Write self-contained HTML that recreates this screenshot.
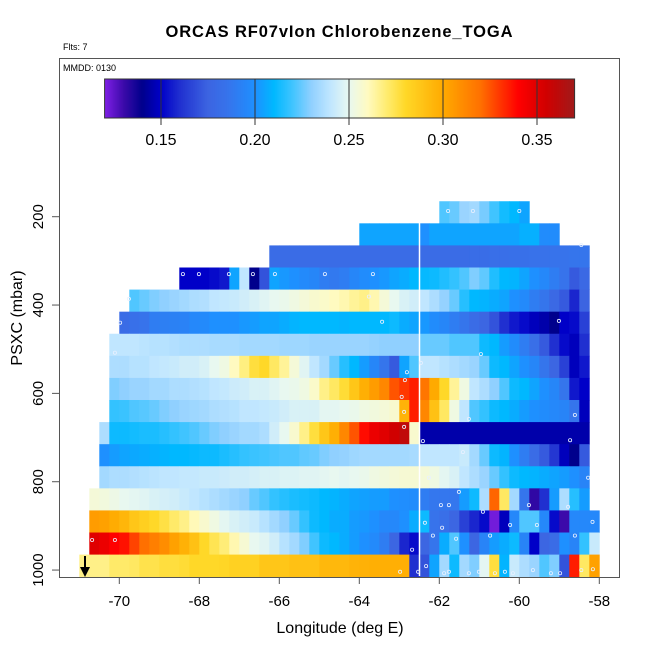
<!DOCTYPE html>
<html><head><meta charset="utf-8"><style>
html,body{margin:0;padding:0;background:#fff;}
svg{display:block;font-family:"Liberation Sans",Arial,sans-serif;}
</style></head><body>
<svg id="chart" width="650" height="650" viewBox="0 0 650 650" xmlns="http://www.w3.org/2000/svg">
<rect x="0" y="0" width="650" height="650" fill="#fff"/>
<text x="339" y="37" text-anchor="middle" font-size="16.5" font-weight="bold" textLength="347">ORCAS RF07vIon Chlorobenzene_TOGA</text>
<text x="63" y="50" font-size="9">Flts: 7</text>
<text x="63" y="71" font-size="9">MMDD: 0130</text>
<g id="cells"></g>
<line x1="419.5" y1="223" x2="419.5" y2="576" stroke="#fff" stroke-width="1.5"/>
<g id="points"></g>
<g id="cbar"></g>
<g id="axes"></g>
<line x1="85" y1="556" x2="85" y2="572" stroke="#000" stroke-width="2"/>
<polygon points="80,567 90,567 85,577" fill="#000"/>
<rect x="59.5" y="58.5" width="560" height="519" fill="none" stroke="#555" stroke-width="1"/>
<text x="340" y="633" text-anchor="middle" font-size="16">Longitude (deg E)</text>
<text transform="translate(22,318) rotate(-90)" text-anchor="middle" font-size="16">PSXC (mbar)</text>
</svg>
<script>
const rowPressure = [190,240,290,340,390,440,490,540,590,640,690,740,790,840,890,940,990];
const rowStartLon = [-62.0,-64.0,-66.25,-68.5,-69.75,-70.0,-70.25,-70.25,-70.25,-70.25,-70.5,-70.5,-70.5,-70.75,-70.75,-70.75,-71.0];
const cellWidthLon = 0.25;
const bandHeightP = 50;
const row0 = [0.222,0.225,0.232,0.234,0.227,0.22,0.213,0.21,0.205];
const row1 = [0.205,0.205,0.205,0.205,0.205,0.205,0.2,0.205,0.205,0.205,0.205,0.205,0.205,0.205,0.205,0.205,0.208,0.208,0.198,0.198];
const row2 = [0.18,0.18,0.18,0.18,0.18,0.18,0.18,0.18,0.18,0.18,0.18,0.18,0.18,0.18,0.18,0.18,0.18,0.18,0.18,0.18,0.181,0.181,0.182,0.182,0.183,0.183,0.184,0.184,0.185,0.185,0.186,0.186];
const row3 = [0.15,0.15,0.15,0.152,0.155,0.205,0.24,0.14,0.17,0.205,0.202,0.2,0.197,0.195,0.19,0.188,0.19,0.195,0.198,0.2,0.202,0.205,0.207,0.21,0.211,0.212,0.215,0.218,0.222,0.228,0.224,0.215,0.21,0.209,0.205,0.2,0.196,0.19,0.185,0.172,0.178];
const row4 = [0.222,0.225,0.228,0.23,0.232,0.234,0.236,0.237,0.24,0.241,0.242,0.244,0.246,0.248,0.25,0.251,0.253,0.255,0.257,0.258,0.26,0.262,0.265,0.267,0.262,0.255,0.25,0.246,0.244,0.24,0.236,0.231,0.225,0.216,0.21,0.209,0.207,0.205,0.2,0.197,0.19,0.186,0.178,0.172,0.158,0.175];
const row5 = [0.18,0.183,0.185,0.19,0.191,0.192,0.193,0.196,0.197,0.2,0.2,0.2,0.202,0.203,0.205,0.205,0.207,0.209,0.21,0.21,0.21,0.21,0.209,0.21,0.21,0.21,0.21,0.212,0.207,0.205,0.202,0.198,0.195,0.19,0.186,0.18,0.176,0.17,0.16,0.155,0.152,0.148,0.145,0.14,0.15,0.152,0.165];
const row6 = [0.24,0.24,0.24,0.239,0.238,0.238,0.237,0.236,0.236,0.236,0.235,0.235,0.235,0.234,0.234,0.234,0.234,0.233,0.233,0.233,0.232,0.232,0.232,0.232,0.232,0.232,0.231,0.23,0.23,0.23,0.23,0.225,0.225,0.225,0.222,0.222,0.222,0.212,0.21,0.203,0.198,0.19,0.182,0.172,0.16,0.152,0.148,0.16];
const row7 = [0.236,0.236,0.238,0.238,0.24,0.241,0.242,0.244,0.244,0.246,0.25,0.253,0.26,0.268,0.277,0.28,0.272,0.265,0.255,0.248,0.24,0.234,0.225,0.216,0.21,0.203,0.195,0.186,0.172,0.205,0.222,0.24,0.24,0.238,0.236,0.234,0.232,0.225,0.212,0.21,0.205,0.2,0.195,0.186,0.176,0.165,0.148,0.155];
const row8 = [0.228,0.23,0.232,0.232,0.234,0.234,0.236,0.236,0.237,0.238,0.24,0.241,0.243,0.244,0.246,0.246,0.248,0.25,0.251,0.253,0.258,0.267,0.272,0.278,0.288,0.298,0.305,0.312,0.325,0.33,0.335,0.318,0.3,0.28,0.265,0.253,0.24,0.236,0.23,0.222,0.212,0.21,0.205,0.2,0.195,0.186,0.155,0.15];
const row9 = [0.218,0.219,0.222,0.223,0.225,0.228,0.23,0.232,0.233,0.234,0.236,0.237,0.238,0.24,0.24,0.241,0.242,0.244,0.246,0.246,0.246,0.249,0.249,0.25,0.251,0.253,0.254,0.255,0.257,0.296,0.335,0.312,0.29,0.272,0.253,0.24,0.222,0.218,0.212,0.21,0.207,0.203,0.2,0.198,0.196,0.194,0.186,0.148];
const row10 = [0.236,0.212,0.212,0.213,0.214,0.214,0.216,0.218,0.22,0.222,0.225,0.228,0.23,0.232,0.234,0.234,0.236,0.244,0.25,0.257,0.267,0.277,0.288,0.298,0.312,0.325,0.338,0.346,0.35,0.355,0.36,0.257,0.145,0.145,0.145,0.145,0.145,0.145,0.145,0.145,0.145,0.145,0.145,0.145,0.145,0.145,0.145,0.145,0.145];
const row11 = [0.2,0.203,0.205,0.206,0.207,0.208,0.209,0.21,0.21,0.211,0.212,0.212,0.214,0.216,0.218,0.219,0.22,0.221,0.222,0.222,0.224,0.225,0.228,0.23,0.231,0.233,0.234,0.234,0.234,0.234,0.234,0.235,0.24,0.24,0.24,0.24,0.242,0.234,0.225,0.212,0.209,0.2,0.19,0.18,0.172,0.162,0.148,0.14,0.172];
const row12 = [0.234,0.236,0.236,0.237,0.238,0.239,0.24,0.24,0.241,0.241,0.242,0.242,0.243,0.244,0.244,0.245,0.246,0.246,0.247,0.247,0.248,0.248,0.249,0.25,0.249,0.25,0.251,0.253,0.254,0.255,0.256,0.256,0.255,0.253,0.249,0.246,0.24,0.236,0.232,0.225,0.218,0.212,0.21,0.209,0.207,0.205,0.203,0.2,0.194];
const row13 = [0.255,0.254,0.252,0.25,0.249,0.248,0.246,0.245,0.244,0.242,0.24,0.238,0.236,0.234,0.232,0.23,0.225,0.222,0.218,0.216,0.214,0.213,0.212,0.21,0.209,0.207,0.205,0.204,0.203,0.203,0.2,0.199,0.198,0.19,0.187,0.187,0.187,0.203,0.212,0.236,0.322,0.272,0.234,0.186,0.132,0.16,0.203,0.236,0.216,0.203];
const row14 = [0.305,0.303,0.299,0.295,0.288,0.284,0.28,0.276,0.271,0.267,0.261,0.257,0.253,0.249,0.246,0.244,0.242,0.238,0.234,0.23,0.225,0.218,0.212,0.21,0.207,0.207,0.203,0.202,0.2,0.196,0.196,0.2,0.207,0.212,0.185,0.182,0.176,0.165,0.158,0.152,0.122,0.148,0.196,0.222,0.222,0.196,0.152,0.13,0.196,0.196,0.196];
const row15 = [0.35,0.346,0.34,0.337,0.328,0.32,0.315,0.31,0.303,0.297,0.29,0.28,0.274,0.269,0.262,0.256,0.25,0.248,0.244,0.238,0.234,0.228,0.22,0.212,0.21,0.207,0.203,0.2,0.197,0.19,0.176,0.158,0.152,0.176,0.186,0.207,0.222,0.2,0.176,0.194,0.203,0.207,0.212,0.194,0.15,0.176,0.18,0.2,0.194,0.218,0.242];
const row16 = [0.267,0.267,0.267,0.271,0.271,0.272,0.275,0.275,0.277,0.277,0.278,0.28,0.28,0.28,0.281,0.283,0.283,0.283,0.288,0.288,0.288,0.29,0.29,0.29,0.294,0.294,0.294,0.296,0.297,0.298,0.298,0.298,0.298,0.16,0.17,0.205,0.234,0.212,0.234,0.228,0.249,0.277,0.209,0.242,0.236,0.232,0.222,0.228,0.17,0.335,0.272,0.303];
const rowValues = [row0,row1,row2,row3,row4,row5,row6,row7,row8,row9,row10,row11,row12,row13,row14,row15,row16];
const pointLon = [-61.78,-61.16,-60.0,-58.45,-68.41,-68.01,-67.26,-66.66,-66.11,-64.86,-63.66,-69.76,-63.76,-69.98,-63.43,-59.01,-70.11,-60.96,-62.46,-62.81,-62.86,-62.94,-61.26,-58.61,-62.88,-62.88,-62.41,-58.73,-61.41,-62.26,-58.28,-61.51,-61.96,-61.76,-59.76,-58.78,-60.91,-58.17,-62.36,-61.93,-60.23,-59.56,-62.16,-60.73,-58.61,-61.58,-62.68,-70.11,-70.68,-62.33,-61.76,-61.01,-60.36,-59.66,-62.98,-62.53,-61.88,-61.26,-60.61,-60.16,-59.21,-58.98,-58.45,-58.16];
const pointP = [187,187,187,264,330,330,330,330,330,330,330,386,381,440,438,436,508,511,531,552,570,608,658,649,642,676,708,706,733,791,791,823,853,853,853,857,868,891,893,904,898,898,922,922,922,929,954,932,932,991,1004,1004,1004,1000,1004,1004,1007,1007,1007,1007,1007,1007,1000,998];
const cbarTicks = [0.15,0.20,0.25,0.30,0.35];
const xTicks = [-70,-68,-66,-64,-62,-60,-58];
const yTicks = [200,400,600,800,1000];

const NS = 'http://www.w3.org/2000/svg';
function xScale(lon){ return 119.3 + (lon + 70) * 40; }
function yScale(p){ return 216.7 + (p - 200) * 0.4417; }
function cbScale(v){ return 104.6 + (v - 0.12) / 0.25 * 470; }
const stops = [[0.12,[128,32,230]],[0.13,[60,10,170]],[0.14,[0,0,140]],[0.15,[0,0,200]],[0.16,[32,48,208]],[0.175,[60,100,225]],[0.185,[55,115,235]],[0.20,[30,144,255]],[0.21,[0,184,255]],[0.22,[64,196,255]],[0.23,[144,208,255]],[0.24,[192,230,255]],[0.25,[232,248,240]],[0.26,[255,250,192]],[0.27,[255,236,112]],[0.28,[255,216,40]],[0.30,[255,170,0]],[0.32,[255,112,0]],[0.34,[255,0,0]],[0.355,[208,0,0]],[0.37,[160,26,26]]];
function color(v){
  if (v <= stops[0][0]) return 'rgb(' + stops[0][1].join(',') + ')';
  for (let i = 1; i < stops.length; i++) {
    if (v <= stops[i][0]) {
      const a = stops[i-1], b = stops[i], t = (v - a[0]) / (b[0] - a[0]);
      const c = a[1].map((x, k) => Math.round(x + (b[1][k] - x) * t));
      return 'rgb(' + c.join(',') + ')';
    }
  }
  return 'rgb(' + stops[stops.length-1][1].join(',') + ')';
}
const cells = document.getElementById('cells');
rowValues.forEach((vals, r) => {
  const y0 = yScale(rowPressure[r] - bandHeightP/2), y1 = yScale(rowPressure[r] + bandHeightP/2);
  vals.forEach((v, i) => {
    const lon = rowStartLon[r] + i * cellWidthLon;
    const x0 = xScale(lon), x1 = xScale(lon + cellWidthLon);
    const rect = document.createElementNS(NS, 'rect');
    rect.setAttribute('x', x0.toFixed(2));
    rect.setAttribute('y', y0.toFixed(2));
    rect.setAttribute('width', (x1 - x0 + 0.4).toFixed(2));
    rect.setAttribute('height', (y1 - y0 + 0.4).toFixed(2));
    rect.setAttribute('fill', color(v));
    
    
    cells.appendChild(rect);
  });
});
const pts = document.getElementById('points');
pointLon.forEach((lon, i) => {
  const c = document.createElementNS(NS, 'circle');
  c.setAttribute('cx', xScale(lon).toFixed(1));
  c.setAttribute('cy', yScale(pointP[i]).toFixed(1));
  c.setAttribute('r', '1.6');
  c.setAttribute('fill', 'none');
  c.setAttribute('stroke', '#e8f0ff');
  c.setAttribute('stroke-width', '0.8');
  
  
  pts.appendChild(c);
});
const cb = document.getElementById('cbar');
for (let i = 0; i < 235; i++) {
  const v = 0.12 + i * 0.25 / 235;
  const r = document.createElementNS(NS, 'rect');
  r.setAttribute('x', cbScale(v).toFixed(2));
  r.setAttribute('y', '79');
  r.setAttribute('width', '2.4');
  r.setAttribute('height', '39');
  r.setAttribute('fill', color(v + 0.25/470));
  
  
  cb.appendChild(r);
}
const cbFrame = document.createElementNS(NS, 'rect');
cbFrame.setAttribute('x', '104.6'); cbFrame.setAttribute('y', '79');
cbFrame.setAttribute('width', '470'); cbFrame.setAttribute('height', '39');
cbFrame.setAttribute('fill', 'none'); cbFrame.setAttribute('stroke', '#333');


cb.appendChild(cbFrame);
cbarTicks.forEach(t => {
  const x = cbScale(t);
  const l = document.createElementNS(NS, 'line');
  l.setAttribute('x1', x); l.setAttribute('x2', x); l.setAttribute('y1', 79); l.setAttribute('y2', 125);
  l.setAttribute('stroke', '#333');
  
  
  cb.appendChild(l);
  const tx = document.createElementNS(NS, 'text');
  tx.setAttribute('x', x); tx.setAttribute('y', 145);
  tx.setAttribute('text-anchor', 'middle'); tx.setAttribute('font-size', '16');
  tx.textContent = t.toFixed(2);
  
  
  cb.appendChild(tx);
});
const ax = document.getElementById('axes');
xTicks.forEach(t => {
  const x = xScale(t);
  const l = document.createElementNS(NS, 'line');
  l.setAttribute('x1', x); l.setAttribute('x2', x); l.setAttribute('y1', 577); l.setAttribute('y2', 584);
  l.setAttribute('stroke', '#555');
  
  
  ax.appendChild(l);
  const tx = document.createElementNS(NS, 'text');
  tx.setAttribute('x', x); tx.setAttribute('y', 606);
  tx.setAttribute('text-anchor', 'middle'); tx.setAttribute('font-size', '15');
  tx.textContent = String(t);
  
  
  ax.appendChild(tx);
});
yTicks.forEach(t => {
  const y = yScale(t);
  const l = document.createElementNS(NS, 'line');
  l.setAttribute('x1', 52); l.setAttribute('x2', 59); l.setAttribute('y1', y); l.setAttribute('y2', y);
  l.setAttribute('stroke', '#555');
  
  
  ax.appendChild(l);
  const tx = document.createElementNS(NS, 'text');
  tx.setAttribute('transform', 'translate(43,' + y + ') rotate(-90)');
  tx.setAttribute('text-anchor', 'middle'); tx.setAttribute('font-size', '15');
  tx.textContent = String(t);
  
  
  ax.appendChild(tx);
});
</script>
</body></html>
